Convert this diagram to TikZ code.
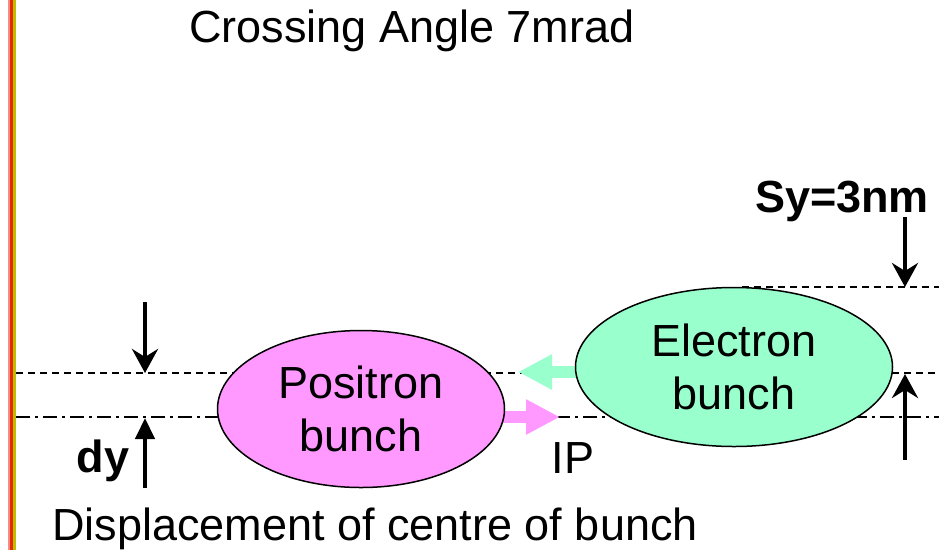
\documentclass[tikz,border=0pt]{standalone}
\usepackage{fontspec}
\setmainfont{Liberation Sans}
\usetikzlibrary{arrows.meta,shapes.geometric}
\definecolor{bunchpink}{RGB}{255,153,255}
\definecolor{bunchgreen}{RGB}{153,255,204}
\definecolor{edgepink}{RGB}{245,140,140}
\definecolor{edgered}{RGB}{232,40,0}
\definecolor{edgeolive}{RGB}{190,190,0}
\begin{document}
\begin{tikzpicture}[x=1pt,y=-1pt,
  lbl/.style={font=\fontsize{45}{53}\selectfont, inner sep=0pt},
  lblbold/.style={font=\fontsize{45}{53}\selectfont\bfseries, inner sep=0pt},
  bunch/.style={ellipse, draw=black, line width=1.5pt, inner sep=0pt,
    align=center, font=\fontsize{45}{53}\selectfont},
  guide/.style={line width=1.5pt, dash pattern=on 7pt off 5pt},
  axisline/.style={line width=1.5pt, dash pattern=on 14pt off 5pt on 3pt off 5pt},
  marker/.style={line width=4.5pt, -{Stealth[length=24pt,width=26pt,inset=8pt]}},
  markersolid/.style={line width=4.5pt, -{Triangle[length=21pt,width=19pt]}},
  flow/.style={line width=12pt, -{Triangle[length=34pt,width=33pt]}},
]
\useasboundingbox (0,0) rectangle (939,550);
\fill[white] (0,0) rectangle (939,550);

% coloured edge strip on the left
\fill[edgepink] (7.5,0) rectangle (10.5,550);
\fill[edgered] (10,0) rectangle (12.5,550);
\fill[edgeolive] (12.5,0) rectangle (16,550);

% reference levels
\coordinate (gl) at (16,373);
\coordinate (gr) at (939,373);
\coordinate (al) at (16,417);
\coordinate (ar) at (939,417);
\coordinate (sl) at (742,287);
\coordinate (sr) at (939,287);
\draw[guide] (gl) -- (gr);
\draw[axisline] (al) -- (ar);
\draw[guide] (sl) -- (sr);

% direction of motion of the bunches
\coordinate (etail) at (590,372);
\coordinate (etip) at (518,372);
\coordinate (ptail) at (490,417);
\coordinate (ptip) at (560,417);
\draw[flow, bunchgreen] (etail) -- (etip);
\draw[flow, bunchpink] (ptail) -- (ptip);

% the two bunches
\node[bunch, fill=bunchpink, minimum width=287pt, minimum height=157pt]
  (pos) at (361,409) {Positron\\bunch};
\node[bunch, fill=bunchgreen, minimum width=317pt, minimum height=159pt]
  (ele) at (734,367) {Electron\\bunch};

% offset markers
\coordinate (dtop) at (145,302);
\coordinate (dtip) at (145,373);
\coordinate (ubot) at (145,488);
\coordinate (utip) at (145,418);
\coordinate (stop) at (905,217);
\coordinate (stip) at (905,287);
\coordinate (sbot) at (905,460);
\coordinate (sutip) at (905,374);
\draw[marker] (dtop) -- (dtip);
\draw[markersolid] (ubot) -- (utip);
\draw[marker] (stop) -- (stip);
\draw[marker] (sbot) -- (sutip);

% labels
\node[lbl, anchor=base] (title) at (412,42) {Crossing Angle 7mrad};
\node[lblbold, anchor=base] (sy) at (842,212) {Sy=3nm};
\node[lblbold, anchor=base] (dy) at (103,472) {dy};
\node[lbl, anchor=base] (ip) at (573,473) {IP};
\node[lbl, anchor=base] (disp) at (375,540) {Displacement of centre of bunch};
\end{tikzpicture}
\end{document}
